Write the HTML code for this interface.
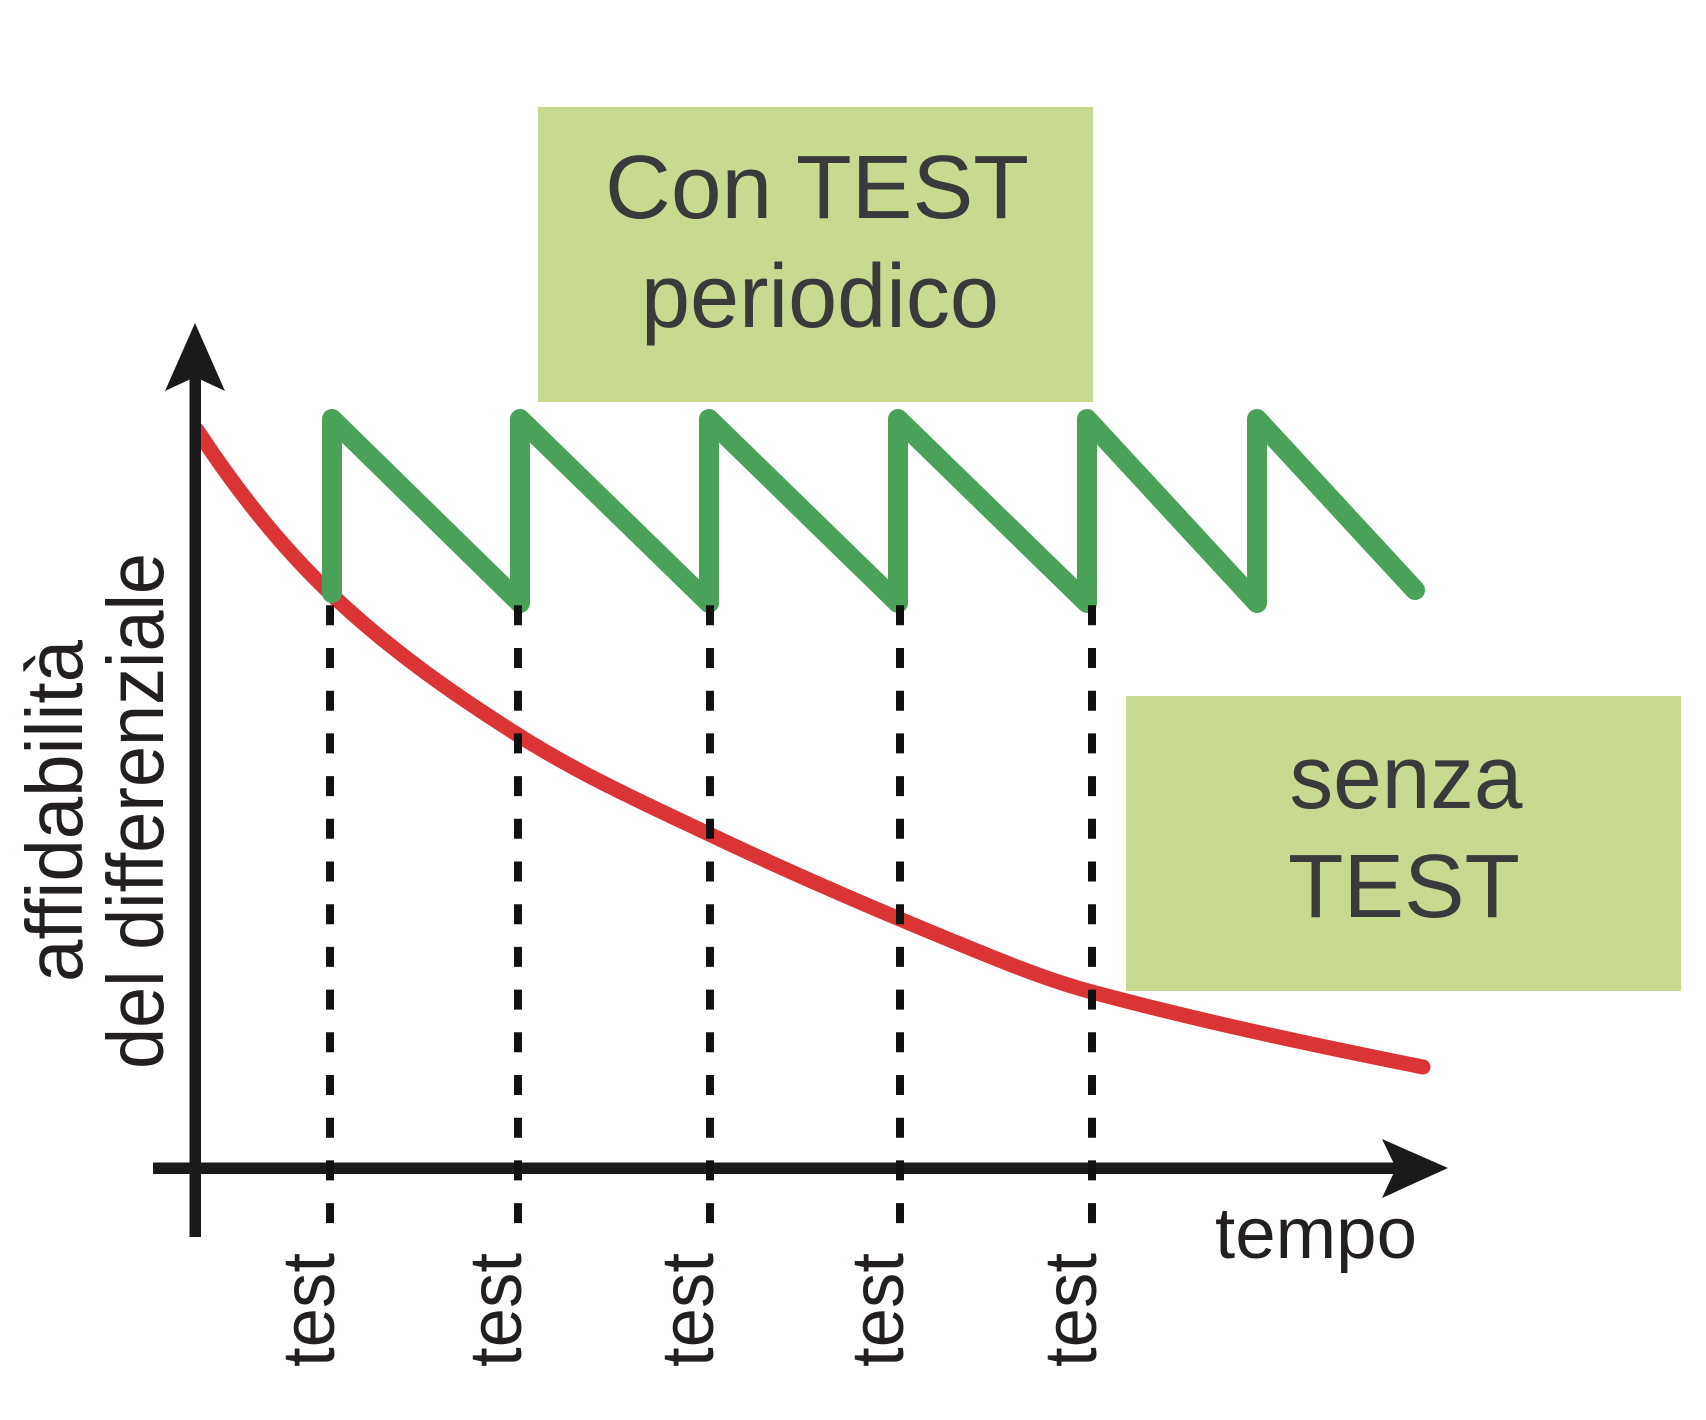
<!DOCTYPE html>
<html>
<head>
<meta charset="utf-8">
<style>
  html, body { margin: 0; padding: 0; background: #ffffff; }
  svg { display: block; }
</style>
</head>
<body>
<svg width="1706" height="1420" viewBox="0 0 1706 1420" xmlns="http://www.w3.org/2000/svg">
  <rect x="0" y="0" width="1706" height="1420" fill="#ffffff"/>

  <!-- Boxes -->
  <rect x="538" y="107" width="555" height="295" fill="#c8da8f"/>
  <rect x="1126" y="696" width="555" height="295" fill="#c8da8f"/>

  <g font-family="'Liberation Sans', Arial, sans-serif" fill="#3a3a3c" font-size="90">
    <text x="817" y="218" text-anchor="middle" textLength="424" lengthAdjust="spacingAndGlyphs">Con TEST</text>
    <text x="820" y="327" text-anchor="middle" textLength="358" lengthAdjust="spacingAndGlyphs">periodico</text>
    <text x="1406" y="808" text-anchor="middle" textLength="233" lengthAdjust="spacingAndGlyphs">senza</text>
    <text x="1404" y="917" text-anchor="middle" textLength="232" lengthAdjust="spacingAndGlyphs">TEST</text>
  </g>

  <!-- Red curve (senza test) -->
  <path d="M197,430 C240,495.5 285,550.25 330,593 C392.67,652.5 455.33,695.2 518,735 C582.33,775.85 646.67,804.4 711,835 C790.67,872.8 870.33,907.2 950,940 C997.33,959.5 1044.67,979.3 1092,992 C1202.33,1021.6 1312.67,1044.9 1423,1067"
        fill="none" stroke="#da3435" stroke-width="15" stroke-linecap="round" stroke-linejoin="round"/>

  <!-- Axes -->
  <g fill="#1a1a1a" stroke="none">
    <rect x="189.5" y="372" width="11.5" height="865"/>
    <polygon points="195,323 225,391 195,377 165,391"/>
    <rect x="153" y="1162.5" width="1245" height="11.5"/>
    <polygon points="1448,1168 1382,1198 1396,1168 1382,1139"/>
  </g>

  <!-- Green sawtooth (con test periodico) -->
  <polyline points="332,593 332,419 520,603 520,419 709,603 709,419 898,603 898,419 1087,603 1087,419 1257,603 1257,419 1415,590"
            fill="none" stroke="#49a257" stroke-width="20" stroke-linecap="round" stroke-linejoin="round"/>

  <!-- Dashed test lines -->
  <g stroke="#111111" stroke-width="8" stroke-dasharray="20 22.7" fill="none">
    <line x1="330" y1="605.3" x2="330" y2="1226"/>
    <line x1="518" y1="605.3" x2="518" y2="1226"/>
    <line x1="710" y1="605.3" x2="710" y2="1226"/>
    <line x1="900" y1="605.3" x2="900" y2="1226"/>
    <line x1="1092" y1="605.3" x2="1092" y2="1226"/>
  </g>

  <!-- Axis labels -->
  <g font-family="'Liberation Sans', Arial, sans-serif" fill="#231f20">
    <text transform="translate(82,811) rotate(-90)" text-anchor="middle" font-size="80" textLength="342" lengthAdjust="spacingAndGlyphs">affidabilità</text>
    <text transform="translate(163,811) rotate(-90)" text-anchor="middle" font-size="80" textLength="516" lengthAdjust="spacingAndGlyphs">del differenziale</text>

    <text x="1316" y="1258" text-anchor="middle" font-size="72" textLength="202" lengthAdjust="spacingAndGlyphs">tempo</text>

    <text transform="translate(334,1310) rotate(-90)" text-anchor="middle" font-size="74" textLength="114" lengthAdjust="spacingAndGlyphs">test</text>
    <text transform="translate(521,1310) rotate(-90)" text-anchor="middle" font-size="74" textLength="114" lengthAdjust="spacingAndGlyphs">test</text>
    <text transform="translate(713,1310) rotate(-90)" text-anchor="middle" font-size="74" textLength="114" lengthAdjust="spacingAndGlyphs">test</text>
    <text transform="translate(903,1310) rotate(-90)" text-anchor="middle" font-size="74" textLength="114" lengthAdjust="spacingAndGlyphs">test</text>
    <text transform="translate(1096,1310) rotate(-90)" text-anchor="middle" font-size="74" textLength="114" lengthAdjust="spacingAndGlyphs">test</text>
  </g>
</svg>
</body>
</html>
